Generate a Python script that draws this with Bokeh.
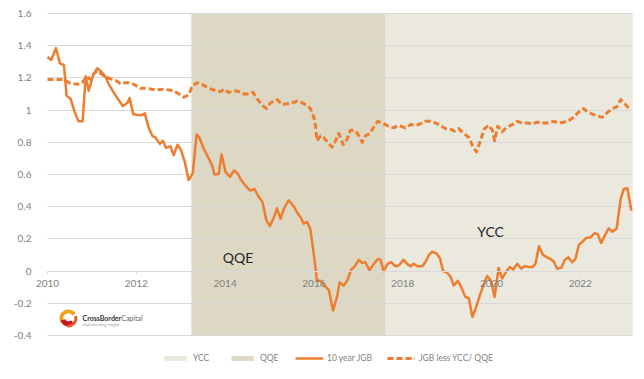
from bokeh.plotting import figure
from bokeh.models import (Range1d, FixedTicker, NumeralTickFormatter, Legend, LegendItem,
                          Label)
from bokeh.embed import file_html
from bokeh.resources import INLINE

# ---- data ----
jgb_dates = [2010.00, 2010.08, 2010.19, 2010.28, 2010.37, 2010.43, 2010.52, 2010.61, 2010.70, 2010.79,
             2010.86, 2010.93, 2011.03, 2011.12, 2011.19, 2011.31, 2011.38, 2011.49, 2011.61, 2011.70,
             2011.80, 2011.85, 2011.93, 2012.02, 2012.13, 2012.19, 2012.28, 2012.36, 2012.43, 2012.53,
             2012.60, 2012.67, 2012.77, 2012.84, 2012.93, 2013.01, 2013.09, 2013.18, 2013.27, 2013.36,
             2013.42, 2013.52, 2013.63, 2013.71, 2013.76, 2013.86, 2013.92, 2014.01, 2014.11, 2014.20,
             2014.29, 2014.35, 2014.46, 2014.57, 2014.66, 2014.76, 2014.84, 2014.93, 2015.01, 2015.10,
             2015.17, 2015.25, 2015.32, 2015.43, 2015.55, 2015.62, 2015.70, 2015.77, 2015.85, 2015.92,
             2016.00, 2016.07, 2016.15, 2016.24, 2016.34, 2016.43, 2016.52, 2016.58, 2016.67, 2016.75,
             2016.84, 2016.91, 2017.01, 2017.09, 2017.16, 2017.25, 2017.35, 2017.44, 2017.50, 2017.57,
             2017.66, 2017.74, 2017.84, 2017.91, 2018.02, 2018.10, 2018.18, 2018.25, 2018.33, 2018.44,
             2018.51, 2018.59, 2018.66, 2018.76, 2018.84, 2018.91, 2019.00, 2019.08, 2019.15, 2019.24,
             2019.32, 2019.41, 2019.49, 2019.57, 2019.64, 2019.75, 2019.90, 2019.99, 2020.07, 2020.16,
             2020.24, 2020.34, 2020.41, 2020.49, 2020.58, 2020.67, 2020.74, 2020.84, 2020.92, 2020.99,
             2021.07, 2021.16, 2021.25, 2021.33, 2021.40, 2021.48, 2021.57, 2021.65, 2021.73, 2021.82,
             2021.89, 2021.97, 2022.04, 2022.13, 2022.23, 2022.32, 2022.39, 2022.47, 2022.55, 2022.64,
             2022.72, 2022.82, 2022.91, 2022.98, 2023.06, 2023.15]
jgb_10y = [1.33, 1.31, 1.385, 1.29, 1.28, 1.09, 1.07, 0.99, 0.93, 0.93,
           1.21, 1.12, 1.22, 1.26, 1.245, 1.205, 1.16, 1.11, 1.06, 1.025,
           1.045, 1.075, 0.975, 0.97, 0.97, 0.98, 0.89, 0.84, 0.83, 0.79,
           0.81, 0.765, 0.775, 0.72, 0.785, 0.75, 0.68, 0.565, 0.605, 0.85,
           0.83, 0.76, 0.70, 0.655, 0.60, 0.605, 0.725, 0.615, 0.585, 0.625,
           0.605, 0.57, 0.53, 0.50, 0.51, 0.46, 0.43, 0.315, 0.28, 0.335,
           0.39, 0.325, 0.385, 0.44, 0.40, 0.365, 0.335, 0.295, 0.305, 0.26,
           0.10, -0.06, -0.06, -0.09, -0.12, -0.245, -0.16, -0.07, -0.09, -0.06,
           0.01, 0.025, 0.07, 0.05, 0.055, 0.005, 0.045, 0.075, 0.07, 0.0,
           0.045, 0.055, 0.03, 0.035, 0.07, 0.045, 0.03, 0.045, 0.03, 0.03,
           0.055, 0.10, 0.12, 0.11, 0.08, 0.0, -0.01, -0.035, -0.09, -0.06,
           -0.10, -0.16, -0.17, -0.285, -0.235, -0.14, -0.03, -0.06, -0.16, 0.02,
           -0.045, 0.0, 0.025, 0.01, 0.045, 0.015, 0.03, 0.025, 0.025, 0.045,
           0.155, 0.10, 0.085, 0.075, 0.06, 0.015, 0.02, 0.07, 0.085, 0.055,
           0.075, 0.165, 0.18, 0.205, 0.21, 0.235, 0.23, 0.175, 0.22, 0.265,
           0.245, 0.265, 0.45, 0.51, 0.515, 0.375]

adj_dates = [2010.00, 2010.18, 2010.37, 2010.52, 2010.67, 2010.78, 2010.88, 2010.97, 2011.04, 2011.12,
             2011.19, 2011.31, 2011.42, 2011.53, 2011.64, 2011.76, 2011.87, 2011.98, 2012.09, 2012.25,
             2012.43, 2012.62, 2012.84, 2012.96, 2013.07, 2013.18, 2013.26, 2013.37, 2013.48, 2013.63,
             2013.75, 2013.90, 2013.97, 2014.08, 2014.20, 2014.31, 2014.42, 2014.53, 2014.63, 2014.72,
             2014.84, 2014.93, 2015.02, 2015.17, 2015.29, 2015.40, 2015.51, 2015.62, 2015.74, 2015.83,
             2015.92, 2016.00, 2016.04, 2016.07, 2016.15, 2016.22, 2016.31, 2016.41, 2016.49, 2016.56,
             2016.66, 2016.75, 2016.82, 2016.90, 2016.98, 2017.09, 2017.16, 2017.26, 2017.35, 2017.44,
             2017.54, 2017.61, 2017.71, 2017.80, 2017.91, 2018.06, 2018.18, 2018.29, 2018.40, 2018.51,
             2018.63, 2018.74, 2018.85, 2018.96, 2019.08, 2019.17, 2019.26, 2019.38, 2019.49, 2019.57,
             2019.66, 2019.75, 2019.84, 2019.94, 2020.02, 2020.07, 2020.14, 2020.24, 2020.35, 2020.47,
             2020.58, 2020.69, 2020.80, 2020.92, 2021.03, 2021.14, 2021.29, 2021.40, 2021.52, 2021.63,
             2021.74, 2021.85, 2021.97, 2022.07, 2022.16, 2022.27, 2022.38, 2022.49, 2022.59, 2022.72,
             2022.82, 2022.91, 2023.00, 2023.13]
jgb_less = [1.19, 1.19, 1.19, 1.165, 1.16, 1.17, 1.21, 1.19, 1.225, 1.245,
            1.23, 1.205, 1.195, 1.185, 1.165, 1.17, 1.17, 1.155, 1.135, 1.135,
            1.125, 1.13, 1.12, 1.10, 1.08, 1.095, 1.15, 1.17, 1.16, 1.135,
            1.125, 1.115, 1.13, 1.11, 1.12, 1.115, 1.10, 1.10, 1.11, 1.07,
            1.03, 1.01, 1.045, 1.065, 1.035, 1.04, 1.045, 1.055, 1.045, 1.03,
            1.01, 0.955, 0.895, 0.81, 0.84, 0.83, 0.80, 0.77, 0.81, 0.855,
            0.785, 0.82, 0.875, 0.875, 0.855, 0.80, 0.84, 0.855, 0.895, 0.93,
            0.92, 0.91, 0.895, 0.89, 0.905, 0.89, 0.91, 0.905, 0.915, 0.93,
            0.93, 0.92, 0.905, 0.885, 0.88, 0.87, 0.885, 0.855, 0.83, 0.78,
            0.74, 0.81, 0.885, 0.905, 0.875, 0.81, 0.90, 0.865, 0.895, 0.91,
            0.93, 0.92, 0.92, 0.915, 0.925, 0.92, 0.92, 0.93, 0.92, 0.925,
            0.935, 0.955, 0.99, 1.01, 0.99, 0.975, 0.965, 0.955, 0.98, 1.01,
            1.02, 1.065, 1.04, 1.00]

qqe_period = [2013.24, 2017.61]
ycc_period = [2017.61, 2023.18]
axis_start = 2010
value_min, value_max = -0.4, 1.6
year_ticks = [2010, 2012, 2014, 2016, 2018, 2020, 2022]
value_ticks = [-0.4, -0.2, 0, 0.2, 0.4, 0.6, 0.8, 1.0, 1.2, 1.4, 1.6]

ORANGE = "#ED7D31"
YCC_COL = "#EBE9DE"
QQE_COL = "#DDD8C3"
GRID = "#D9D9D9"
TXT = "#7F7F7F"
FONT = "Lato"

# layout: plot area spans 47..632 px horizontally, 13..335 px vertically
W, H = 640, 375
PX_PER_YEAR = 44.4
PX_PER_UNIT = 161.0
x_lo = axis_start - 47 / PX_PER_YEAR
x_hi = axis_start + (W - 47) / PX_PER_YEAR
y_hi = value_max + 13 / PX_PER_UNIT
y_lo = value_min - (H - 335) / PX_PER_UNIT

p = figure(width=W, height=H, output_backend="svg", toolbar_location=None,
           x_range=Range1d(x_lo, x_hi), y_range=Range1d(y_lo, y_hi),
           min_border_left=0, min_border_right=0, min_border_top=0, min_border_bottom=0)
p.outline_line_color = None
p.background_fill_color = "white"
p.border_fill_color = "white"

ycc_r = p.quad(left=[ycc_period[0]], right=[ycc_period[1]], bottom=[value_min], top=[value_max],
               fill_color=YCC_COL, line_color=None, level="image")
qqe_r = p.quad(left=[qqe_period[0]], right=[qqe_period[1]], bottom=[value_min], top=[value_max],
               fill_color=QQE_COL, line_color=None, level="image")

jgb_r = p.line(jgb_dates, jgb_10y, line_color=ORANGE, line_width=2.5, line_join="round")
less_r = p.line(adj_dates, jgb_less, line_color=ORANGE, line_width=3, line_dash="6 3",
                line_join="round")

# grid
p.xgrid.visible = False
yg = p.ygrid[0]
yg.grid_line_color = GRID
yg.grid_line_width = 1
yg.ticker = FixedTicker(ticks=value_ticks)
try:
    yg.cross_bounds = (axis_start, ycc_period[1])
except Exception:
    pass

# x axis crossing at zero
xa = p.xaxis[0]
xa.ticker = FixedTicker(ticks=year_ticks)
xa.formatter = NumeralTickFormatter(format="0")
xa.fixed_location = 0
xa.bounds = (axis_start, ycc_period[1])
xa.axis_line_color = GRID
xa.major_tick_line_color = GRID
xa.major_tick_out = 3
xa.major_tick_in = 0
xa.minor_tick_line_color = None
xa.major_label_standoff = 6
xa.major_label_text_font = FONT
xa.major_label_text_font_size = "10px"
xa.major_label_text_color = TXT

# y axis at left edge of plot area
ya = p.yaxis[0]
ya.ticker = FixedTicker(ticks=value_ticks)
ya.formatter = NumeralTickFormatter(format="0.[0]")
ya.fixed_location = axis_start
ya.axis_line_color = None
ya.major_tick_line_color = None
ya.minor_tick_line_color = None
ya.major_label_standoff = 10
ya.major_label_text_font = FONT
ya.major_label_text_font_size = "10px"
ya.major_label_text_color = TXT

# period labels
p.add_layout(Label(x=2014.29, y=0.084, text="QQE", text_font=FONT, text_font_size="14px",
                   text_color="#262626", text_align="center", text_baseline="middle"))
p.add_layout(Label(x=2019.98, y=0.246, text="YCC", text_font=FONT, text_font_size="14px",
                   text_color="#262626", text_align="center", text_baseline="middle"))

# logo
p.annular_wedge(x=[2010.47], y=[-0.294], inner_radius=5, outer_radius=9,
                inner_radius_units="screen", outer_radius_units="screen",
                start_angle=[0.6], end_angle=[3.6], fill_color="#F6A01A", line_color=None)
p.annular_wedge(x=[2010.47], y=[-0.294], inner_radius=3, outer_radius=8,
                inner_radius_units="screen", outer_radius_units="screen",
                start_angle=[3.4], end_angle=[5.6], fill_color="#C4161C", line_color=None)
p.annular_wedge(x=[2010.47], y=[-0.294], inner_radius=6, outer_radius=9,
                inner_radius_units="screen", outer_radius_units="screen",
                start_angle=[4.6], end_angle=[6.6], fill_color="#E4572E", line_color=None)
p.add_layout(Label(x=2010.79, y=-0.294, text="CrossBorder", text_font=FONT, text_font_size="7px",
                   text_font_style="bold", text_color="#333333", text_baseline="middle"))
p.add_layout(Label(x=2011.66, y=-0.294, text="Capital", text_font=FONT, text_font_size="7px",
                   text_color="#666666", text_baseline="middle", text_align="left"))
p.add_layout(Label(x=2010.79, y=-0.332, text="Implementing insight", text_font=FONT,
                   text_font_size="4px", text_color="#999999", text_baseline="middle"))

legend = Legend(items=[LegendItem(label="YCC", renderers=[ycc_r]),
                       LegendItem(label="QQE", renderers=[qqe_r]),
                       LegendItem(label="10 year JGB", renderers=[jgb_r]),
                       LegendItem(label="JGB less YCC/ QQE", renderers=[less_r])],
                orientation="horizontal", location=(161, 12),
                glyph_width=28, glyph_height=6, label_standoff=4, spacing=15,
                padding=0, margin=0, border_line_color=None, background_fill_alpha=0,
                label_text_font=FONT, label_text_font_size="8.5px", label_text_color=TXT)
p.add_layout(legend)

open("out.html", "w").write(file_html(p, INLINE))
